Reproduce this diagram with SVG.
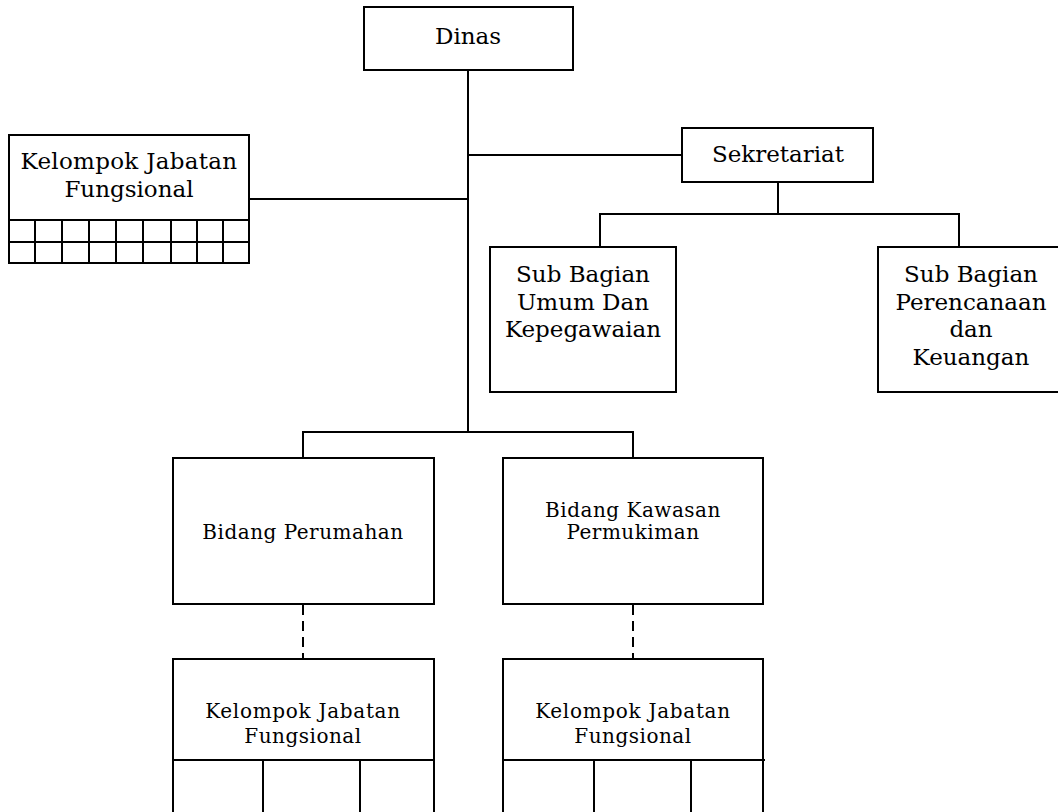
<svg xmlns="http://www.w3.org/2000/svg" width="1058" height="812" viewBox="0 0 1058 812">
<style>
.box{fill:#fff;stroke:#000;stroke-width:2}
.ln{fill:none;stroke:#000;stroke-width:2}
.dash{fill:none;stroke:#000;stroke-width:2;stroke-dasharray:10,6}
.t{font-family:"DejaVu Serif","Liberation Serif",serif;font-size:23px;text-anchor:middle;fill:#000}
.s{font-family:"DejaVu Serif","Liberation Serif",serif;font-size:20px;letter-spacing:0.5px;text-anchor:middle;fill:#000}
</style>
<rect width="1058" height="812" fill="#fff"/>
<g id="connectors">
<path class="ln" d="M468 70V432M468 155H682M249 199H468M303 458V432H633V458"/>
<path class="ln" d="M778 182V214M600 247V214H959V247"/>
<path class="dash" d="M303 605V659M633 605V659"/>
</g>
<g id="dinas"><rect class="box" x="364" y="7" width="209" height="63"/><text class="t" x="468" y="44">Dinas</text></g>
<g id="sekretariat"><rect class="box" x="682" y="128" width="191" height="54"/><text class="t" x="778" y="162">Sekretariat</text></g>
<g id="kjf-top">
<rect class="box" x="9" y="135" width="240" height="128"/>
<path class="ln" d="M9 220H249M9 242H249M35 220V263M62 220V263M89 220V263M116 220V263M143 220V263M171 220V263M197 220V263M223 220V263"/>
<text class="t" x="129" y="169" style="letter-spacing:0.3px">Kelompok Jabatan</text>
<text class="t" x="129" y="197">Fungsional</text>
</g>
<g id="subbag-umum"><rect class="box" x="490" y="247" width="186" height="145"/>
<text class="t" x="583" y="282">Sub Bagian</text><text class="t" x="583" y="310">Umum Dan</text><text class="t" x="583" y="337">Kepegawaian</text></g>
<g id="subbag-keu"><rect class="box" x="878" y="247" width="182" height="145"/>
<text class="t" x="971" y="282">Sub Bagian</text><text class="t" x="971" y="310">Perencanaan</text><text class="t" x="971" y="337">dan</text><text class="t" x="971" y="365">Keuangan</text></g>
<g id="bidang-perumahan"><rect class="box" x="173" y="458" width="261" height="146"/><text class="s" x="303" y="539">Bidang Perumahan</text></g>
<g id="bidang-kawasan"><rect class="box" x="503" y="458" width="260" height="146"/><text class="s" x="633" y="517">Bidang Kawasan</text><text class="s" x="633" y="539">Permukiman</text></g>
<g id="kjf-perumahan"><rect class="box" x="173" y="659" width="261" height="160"/>
<path class="ln" d="M173 760H434M263 760V820M360 760V820"/>
<text class="s" x="303" y="718" style="letter-spacing:0.7px">Kelompok Jabatan</text><text class="s" x="303" y="743">Fungsional</text></g>
<g id="kjf-kawasan"><rect class="box" x="503" y="659" width="260" height="160"/>
<path class="ln" d="M503 760H765M594 760V820M691 760V820"/>
<text class="s" x="633" y="718" style="letter-spacing:0.7px">Kelompok Jabatan</text><text class="s" x="633" y="743">Fungsional</text></g>
</svg>
